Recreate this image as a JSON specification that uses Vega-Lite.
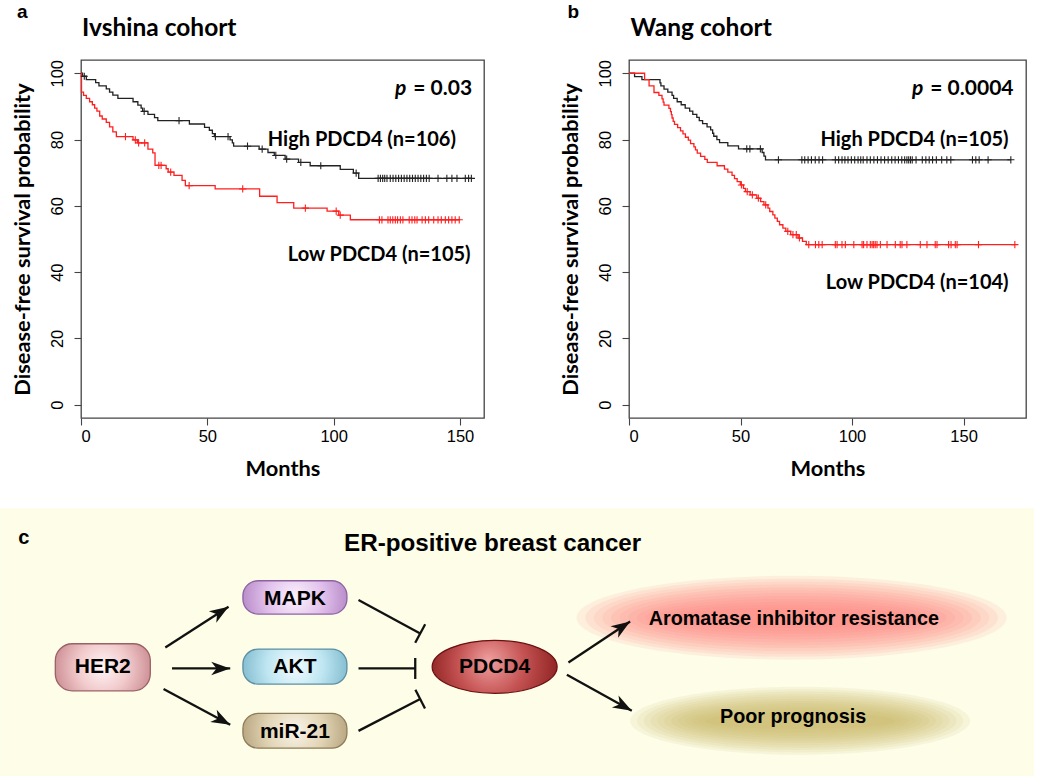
{
  "$schema": "https://vega.github.io/schema/vega-lite/v6.json",
  "background": "white",
  "padding": {"left": 0, "top": 2, "right": 0, "bottom": 0},
  "config": {
    "font": "Liberation Sans",
    "axis": {
      "grid": false, "domain": false, "tickColor": "#444", "tickSize": 7, "tickWidth": 1.1,
      "labelFont": "Liberation Sans", "labelFontSize": 16.5, "labelColor": "black",
      "titleFont": "Lato", "titleFontWeight": "bold", "titleFontSize": 21.8, "titleColor": "black"
    }
  },
  "datasets": {
    "km": [
      {"panel":"a","grp":"High","month":0,"surv":100},{"panel":"a","grp":"High","month":0.6,"surv":99.1},{"panel":"a","grp":"High","month":2.1,"surv":98.1},{"panel":"a","grp":"High","month":5.8,"surv":97.2},{"panel":"a","grp":"High","month":7.1,"surv":96.2},{"panel":"a","grp":"High","month":10.0,"surv":95.3},{"panel":"a","grp":"High","month":11.3,"surv":94.3},{"panel":"a","grp":"High","month":12.6,"surv":93.4},{"panel":"a","grp":"High","month":14.6,"surv":92.4},{"panel":"a","grp":"High","month":20.6,"surv":91.4},{"panel":"a","grp":"High","month":22.5,"surv":90.4},{"panel":"a","grp":"High","month":23.8,"surv":89.5},{"panel":"a","grp":"High","month":24.4,"surv":88.5},{"panel":"a","grp":"High","month":26.5,"surv":87.6},{"panel":"a","grp":"High","month":29.1,"surv":86.6},{"panel":"a","grp":"High","month":30.4,"surv":85.7},{"panel":"a","grp":"High","month":42.9,"surv":84.7},{"panel":"a","grp":"High","month":48.9,"surv":83.7},{"panel":"a","grp":"High","month":50.8,"surv":82.8},{"panel":"a","grp":"High","month":52.0,"surv":81.8},{"panel":"a","grp":"High","month":52.8,"surv":80.9},{"panel":"a","grp":"High","month":59.0,"surv":79.9},{"panel":"a","grp":"High","month":59.9,"surv":79.0},{"panel":"a","grp":"High","month":60.4,"surv":78.0},{"panel":"a","grp":"High","month":70.5,"surv":77.1},{"panel":"a","grp":"High","month":74.0,"surv":76.1},{"panel":"a","grp":"High","month":76.5,"surv":75.2},{"panel":"a","grp":"High","month":80.8,"surv":74.1},{"panel":"a","grp":"High","month":86.1,"surv":73.1},{"panel":"a","grp":"High","month":90.7,"surv":72.1},{"panel":"a","grp":"High","month":102.6,"surv":71.0},{"panel":"a","grp":"High","month":107.8,"surv":69.9},{"panel":"a","grp":"High","month":109.9,"surv":68.3},{"panel":"a","grp":"High","month":154.5,"surv":68.3},
      {"panel":"a","grp":"Low","month":0,"surv":100},{"panel":"a","grp":"Low","month":0.2,"surv":94.3},{"panel":"a","grp":"Low","month":1.0,"surv":93.3},{"panel":"a","grp":"Low","month":2.1,"surv":92.4},{"panel":"a","grp":"Low","month":3.4,"surv":91.4},{"panel":"a","grp":"Low","month":4.5,"surv":90.5},{"panel":"a","grp":"Low","month":5.4,"surv":89.5},{"panel":"a","grp":"Low","month":6.3,"surv":88.6},{"panel":"a","grp":"Low","month":7.4,"surv":87.1},{"panel":"a","grp":"Low","month":8.4,"surv":86.2},{"panel":"a","grp":"Low","month":10.0,"surv":85.2},{"panel":"a","grp":"Low","month":11.3,"surv":83.8},{"panel":"a","grp":"Low","month":12.6,"surv":82.3},{"panel":"a","grp":"Low","month":14.0,"surv":80.9},{"panel":"a","grp":"Low","month":20.6,"surv":79.9},{"panel":"a","grp":"Low","month":22.3,"surv":79.0},{"panel":"a","grp":"Low","month":26.5,"surv":77.1},{"panel":"a","grp":"Low","month":28.4,"surv":76.0},{"panel":"a","grp":"Low","month":29.3,"surv":72.2},{"panel":"a","grp":"Low","month":33.7,"surv":71.2},{"panel":"a","grp":"Low","month":34.5,"surv":70.2},{"panel":"a","grp":"Low","month":36.8,"surv":69.2},{"panel":"a","grp":"Low","month":40.0,"surv":67.7},{"panel":"a","grp":"Low","month":41.3,"surv":66.1},{"panel":"a","grp":"Low","month":53.1,"surv":65.1},{"panel":"a","grp":"Low","month":70.7,"surv":62.9},{"panel":"a","grp":"Low","month":77.6,"surv":61.0},{"panel":"a","grp":"Low","month":84.2,"surv":59.3},{"panel":"a","grp":"Low","month":97.4,"surv":58.4},{"panel":"a","grp":"Low","month":102.0,"surv":57.2},{"panel":"a","grp":"Low","month":106.6,"surv":55.8},{"panel":"a","grp":"Low","month":150.1,"surv":55.8},
      {"panel":"b","grp":"High","month":0,"surv":100},{"panel":"b","grp":"High","month":2.5,"surv":99.0},{"panel":"b","grp":"High","month":5.8,"surv":98.1},{"panel":"b","grp":"High","month":13.9,"surv":97.1},{"panel":"b","grp":"High","month":14.3,"surv":96.2},{"panel":"b","grp":"High","month":15.7,"surv":95.2},{"panel":"b","grp":"High","month":17.4,"surv":94.3},{"panel":"b","grp":"High","month":19.3,"surv":93.3},{"panel":"b","grp":"High","month":20.0,"surv":92.4},{"panel":"b","grp":"High","month":21.6,"surv":91.4},{"panel":"b","grp":"High","month":23.4,"surv":90.5},{"panel":"b","grp":"High","month":25.2,"surv":89.5},{"panel":"b","grp":"High","month":27.2,"surv":88.6},{"panel":"b","grp":"High","month":28.6,"surv":87.6},{"panel":"b","grp":"High","month":30.4,"surv":86.7},{"panel":"b","grp":"High","month":31.5,"surv":85.7},{"panel":"b","grp":"High","month":33.0,"surv":84.8},{"panel":"b","grp":"High","month":35.0,"surv":83.8},{"panel":"b","grp":"High","month":36.6,"surv":82.9},{"panel":"b","grp":"High","month":37.5,"surv":81.9},{"panel":"b","grp":"High","month":38.0,"surv":81.0},{"panel":"b","grp":"High","month":39.4,"surv":80.0},{"panel":"b","grp":"High","month":40.6,"surv":79.1},{"panel":"b","grp":"High","month":44.3,"surv":78.1},{"panel":"b","grp":"High","month":49.1,"surv":77.2},{"panel":"b","grp":"High","month":59.7,"surv":76.1},{"panel":"b","grp":"High","month":60.5,"surv":75.0},{"panel":"b","grp":"High","month":61.2,"surv":73.9},{"panel":"b","grp":"High","month":171.2,"surv":73.9},
      {"panel":"b","grp":"Low","month":0,"surv":100},{"panel":"b","grp":"Low","month":7.0,"surv":98.1},{"panel":"b","grp":"Low","month":9.0,"surv":96.2},{"panel":"b","grp":"Low","month":11.2,"surv":94.2},{"panel":"b","grp":"Low","month":13.4,"surv":93.3},{"panel":"b","grp":"Low","month":14.8,"surv":92.3},{"panel":"b","grp":"Low","month":15.3,"surv":91.3},{"panel":"b","grp":"Low","month":15.7,"surv":90.4},{"panel":"b","grp":"Low","month":17.9,"surv":89.4},{"panel":"b","grp":"Low","month":18.6,"surv":88.4},{"panel":"b","grp":"Low","month":19.0,"surv":87.5},{"panel":"b","grp":"Low","month":19.3,"surv":86.5},{"panel":"b","grp":"Low","month":19.8,"surv":85.5},{"panel":"b","grp":"Low","month":20.4,"surv":84.6},{"panel":"b","grp":"Low","month":21.8,"surv":83.6},{"panel":"b","grp":"Low","month":23.1,"surv":82.6},{"panel":"b","grp":"Low","month":24.2,"surv":81.7},{"panel":"b","grp":"Low","month":25.3,"surv":80.7},{"panel":"b","grp":"Low","month":26.6,"surv":79.8},{"panel":"b","grp":"Low","month":27.6,"surv":78.8},{"panel":"b","grp":"Low","month":29.1,"surv":77.8},{"panel":"b","grp":"Low","month":29.8,"surv":76.9},{"panel":"b","grp":"Low","month":30.6,"surv":75.9},{"panel":"b","grp":"Low","month":32.1,"surv":74.9},{"panel":"b","grp":"Low","month":34.0,"surv":74.0},{"panel":"b","grp":"Low","month":35.1,"surv":73.1},{"panel":"b","grp":"Low","month":39.5,"surv":72.1},{"panel":"b","grp":"Low","month":42.8,"surv":71.1},{"panel":"b","grp":"Low","month":44.3,"surv":70.2},{"panel":"b","grp":"Low","month":46.2,"surv":69.2},{"panel":"b","grp":"Low","month":47.3,"surv":68.2},{"panel":"b","grp":"Low","month":48.5,"surv":67.3},{"panel":"b","grp":"Low","month":49.9,"surv":66.3},{"panel":"b","grp":"Low","month":51.3,"surv":65.3},{"panel":"b","grp":"Low","month":52.2,"surv":64.3},{"panel":"b","grp":"Low","month":54.3,"surv":63.3},{"panel":"b","grp":"Low","month":57.3,"surv":62.3},{"panel":"b","grp":"Low","month":59.0,"surv":61.3},{"panel":"b","grp":"Low","month":60.5,"surv":60.3},{"panel":"b","grp":"Low","month":62.3,"surv":59.3},{"panel":"b","grp":"Low","month":63.1,"surv":58.3},{"panel":"b","grp":"Low","month":64.5,"surv":57.3},{"panel":"b","grp":"Low","month":65.4,"surv":56.3},{"panel":"b","grp":"Low","month":66.5,"surv":55.3},{"panel":"b","grp":"Low","month":67.5,"surv":54.3},{"panel":"b","grp":"Low","month":69.0,"surv":53.3},{"panel":"b","grp":"Low","month":70.3,"surv":52.3},{"panel":"b","grp":"Low","month":72.5,"surv":51.3},{"panel":"b","grp":"Low","month":75.8,"surv":50.3},{"panel":"b","grp":"Low","month":77.8,"surv":49.3},{"panel":"b","grp":"Low","month":79.5,"surv":48.3},{"panel":"b","grp":"Low","month":173.0,"surv":48.3}
    ],
    "cens": [
      {"panel":"a","grp":"High","month":1.3,"surv":99.1},{"panel":"a","grp":"High","month":25.0,"surv":88.5},{"panel":"a","grp":"High","month":38.8,"surv":85.7},{"panel":"a","grp":"High","month":53.2,"surv":80.9},{"panel":"a","grp":"High","month":58.2,"surv":80.9},{"panel":"a","grp":"High","month":65.9,"surv":78.0},{"panel":"a","grp":"High","month":71.7,"surv":77.1},{"panel":"a","grp":"High","month":77.1,"surv":75.2},{"panel":"a","grp":"High","month":81.4,"surv":74.1},{"panel":"a","grp":"High","month":87.0,"surv":73.1},{"panel":"a","grp":"High","month":94.9,"surv":72.1},{"panel":"a","grp":"High","month":108.9,"surv":69.9},
      {"panel":"a","grp":"High","month":117.6,"surv":68.3},{"panel":"a","grp":"High","month":118.5,"surv":68.3},{"panel":"a","grp":"High","month":119.4,"surv":68.3},{"panel":"a","grp":"High","month":120.2,"surv":68.3},{"panel":"a","grp":"High","month":121.1,"surv":68.3},{"panel":"a","grp":"High","month":122.4,"surv":68.3},{"panel":"a","grp":"High","month":123.5,"surv":68.3},{"panel":"a","grp":"High","month":124.6,"surv":68.3},{"panel":"a","grp":"High","month":125.7,"surv":68.3},{"panel":"a","grp":"High","month":126.8,"surv":68.3},{"panel":"a","grp":"High","month":127.9,"surv":68.3},{"panel":"a","grp":"High","month":129.0,"surv":68.3},{"panel":"a","grp":"High","month":130.1,"surv":68.3},{"panel":"a","grp":"High","month":131.2,"surv":68.3},{"panel":"a","grp":"High","month":132.3,"surv":68.3},{"panel":"a","grp":"High","month":133.4,"surv":68.3},{"panel":"a","grp":"High","month":134.5,"surv":68.3},{"panel":"a","grp":"High","month":135.6,"surv":68.3},{"panel":"a","grp":"High","month":136.7,"surv":68.3},{"panel":"a","grp":"High","month":137.8,"surv":68.3},{"panel":"a","grp":"High","month":141.3,"surv":68.3},{"panel":"a","grp":"High","month":144.8,"surv":68.3},{"panel":"a","grp":"High","month":146.8,"surv":68.3},{"panel":"a","grp":"High","month":148.8,"surv":68.3},{"panel":"a","grp":"High","month":152.1,"surv":68.3},{"panel":"a","grp":"High","month":153.4,"surv":68.3},{"panel":"a","grp":"High","month":154.5,"surv":68.3},
      {"panel":"a","grp":"Low","month":17.6,"surv":80.9},{"panel":"a","grp":"Low","month":21.5,"surv":79.9},{"panel":"a","grp":"Low","month":22.8,"surv":79.0},{"panel":"a","grp":"Low","month":25.2,"surv":79.0},{"panel":"a","grp":"Low","month":30.8,"surv":72.2},{"panel":"a","grp":"Low","month":31.7,"surv":72.2},{"panel":"a","grp":"Low","month":35.5,"surv":70.2},{"panel":"a","grp":"Low","month":42.8,"surv":66.1},{"panel":"a","grp":"Low","month":64.0,"surv":65.1},{"panel":"a","grp":"Low","month":88.8,"surv":59.3},{"panel":"a","grp":"Low","month":101.0,"surv":58.4},{"panel":"a","grp":"Low","month":102.6,"surv":57.2},
      {"panel":"a","grp":"Low","month":118.1,"surv":55.8},{"panel":"a","grp":"Low","month":119.1,"surv":55.8},{"panel":"a","grp":"Low","month":121.5,"surv":55.8},{"panel":"a","grp":"Low","month":122.4,"surv":55.8},{"panel":"a","grp":"Low","month":123.4,"surv":55.8},{"panel":"a","grp":"Low","month":124.4,"surv":55.8},{"panel":"a","grp":"Low","month":125.3,"surv":55.8},{"panel":"a","grp":"Low","month":126.4,"surv":55.8},{"panel":"a","grp":"Low","month":127.4,"surv":55.8},{"panel":"a","grp":"Low","month":129.9,"surv":55.8},{"panel":"a","grp":"Low","month":131.0,"surv":55.8},{"panel":"a","grp":"Low","month":132.1,"surv":55.8},{"panel":"a","grp":"Low","month":133.0,"surv":55.8},{"panel":"a","grp":"Low","month":135.0,"surv":55.8},{"panel":"a","grp":"Low","month":136.3,"surv":55.8},{"panel":"a","grp":"Low","month":137.6,"surv":55.8},{"panel":"a","grp":"Low","month":139.6,"surv":55.8},{"panel":"a","grp":"Low","month":141.3,"surv":55.8},{"panel":"a","grp":"Low","month":142.6,"surv":55.8},{"panel":"a","grp":"Low","month":144.2,"surv":55.8},{"panel":"a","grp":"Low","month":145.5,"surv":55.8},{"panel":"a","grp":"Low","month":146.8,"surv":55.8},{"panel":"a","grp":"Low","month":148.1,"surv":55.8},{"panel":"a","grp":"Low","month":149.7,"surv":55.8},
      {"panel":"b","grp":"High","month":52.8,"surv":77.2},{"panel":"b","grp":"High","month":54.2,"surv":77.2},{"panel":"b","grp":"High","month":58.9,"surv":77.2},
      {"panel":"b","grp":"High","month":67.0,"surv":73.9},{"panel":"b","grp":"High","month":77.5,"surv":73.9},{"panel":"b","grp":"High","month":78.8,"surv":73.9},{"panel":"b","grp":"High","month":80.3,"surv":73.9},{"panel":"b","grp":"High","month":81.8,"surv":73.9},{"panel":"b","grp":"High","month":83.5,"surv":73.9},{"panel":"b","grp":"High","month":85.2,"surv":73.9},{"panel":"b","grp":"High","month":86.8,"surv":73.9},{"panel":"b","grp":"High","month":92.5,"surv":73.9},{"panel":"b","grp":"High","month":94.0,"surv":73.9},{"panel":"b","grp":"High","month":95.5,"surv":73.9},{"panel":"b","grp":"High","month":96.8,"surv":73.9},{"panel":"b","grp":"High","month":98.2,"surv":73.9},{"panel":"b","grp":"High","month":99.7,"surv":73.9},{"panel":"b","grp":"High","month":101.2,"surv":73.9},{"panel":"b","grp":"High","month":102.7,"surv":73.9},{"panel":"b","grp":"High","month":103.9,"surv":73.9},{"panel":"b","grp":"High","month":105.0,"surv":73.9},{"panel":"b","grp":"High","month":106.7,"surv":73.9},{"panel":"b","grp":"High","month":108.2,"surv":73.9},{"panel":"b","grp":"High","month":109.8,"surv":73.9},{"panel":"b","grp":"High","month":111.4,"surv":73.9},{"panel":"b","grp":"High","month":113.0,"surv":73.9},{"panel":"b","grp":"High","month":114.6,"surv":73.9},{"panel":"b","grp":"High","month":116.2,"surv":73.9},{"panel":"b","grp":"High","month":117.8,"surv":73.9},{"panel":"b","grp":"High","month":119.3,"surv":73.9},{"panel":"b","grp":"High","month":120.8,"surv":73.9},{"panel":"b","grp":"High","month":122.3,"surv":73.9},{"panel":"b","grp":"High","month":123.6,"surv":73.9},{"panel":"b","grp":"High","month":124.6,"surv":73.9},{"panel":"b","grp":"High","month":125.4,"surv":73.9},{"panel":"b","grp":"High","month":126.2,"surv":73.9},{"panel":"b","grp":"High","month":127.0,"surv":73.9},{"panel":"b","grp":"High","month":128.7,"surv":73.9},{"panel":"b","grp":"High","month":131.5,"surv":73.9},{"panel":"b","grp":"High","month":133.1,"surv":73.9},{"panel":"b","grp":"High","month":134.6,"surv":73.9},{"panel":"b","grp":"High","month":136.1,"surv":73.9},{"panel":"b","grp":"High","month":137.8,"surv":73.9},{"panel":"b","grp":"High","month":140.2,"surv":73.9},{"panel":"b","grp":"High","month":142.5,"surv":73.9},{"panel":"b","grp":"High","month":144.3,"surv":73.9},{"panel":"b","grp":"High","month":154.0,"surv":73.9},{"panel":"b","grp":"High","month":155.5,"surv":73.9},{"panel":"b","grp":"High","month":157.0,"surv":73.9},{"panel":"b","grp":"High","month":161.0,"surv":73.9},{"panel":"b","grp":"High","month":171.2,"surv":73.9},
      {"panel":"b","grp":"Low","month":50.4,"surv":66.3},{"panel":"b","grp":"Low","month":53.0,"surv":64.3},{"panel":"b","grp":"Low","month":55.3,"surv":63.3},{"panel":"b","grp":"Low","month":58.0,"surv":62.3},{"panel":"b","grp":"Low","month":61.3,"surv":60.3},{"panel":"b","grp":"Low","month":71.2,"surv":52.3},{"panel":"b","grp":"Low","month":73.5,"surv":51.3},{"panel":"b","grp":"Low","month":75.0,"surv":51.3},{"panel":"b","grp":"Low","month":76.4,"surv":50.3},
      {"panel":"b","grp":"Low","month":80.6,"surv":48.3},{"panel":"b","grp":"Low","month":83.6,"surv":48.3},{"panel":"b","grp":"Low","month":85.1,"surv":48.3},{"panel":"b","grp":"Low","month":86.6,"surv":48.3},{"panel":"b","grp":"Low","month":92.5,"surv":48.3},{"panel":"b","grp":"Low","month":93.3,"surv":48.3},{"panel":"b","grp":"Low","month":95.5,"surv":48.3},{"panel":"b","grp":"Low","month":97.0,"surv":48.3},{"panel":"b","grp":"Low","month":100.8,"surv":48.3},{"panel":"b","grp":"Low","month":104.5,"surv":48.3},{"panel":"b","grp":"Low","month":105.2,"surv":48.3},{"panel":"b","grp":"Low","month":106.7,"surv":48.3},{"panel":"b","grp":"Low","month":108.2,"surv":48.3},{"panel":"b","grp":"Low","month":109.0,"surv":48.3},{"panel":"b","grp":"Low","month":109.7,"surv":48.3},{"panel":"b","grp":"Low","month":110.4,"surv":48.3},{"panel":"b","grp":"Low","month":111.2,"surv":48.3},{"panel":"b","grp":"Low","month":112.7,"surv":48.3},{"panel":"b","grp":"Low","month":115.7,"surv":48.3},{"panel":"b","grp":"Low","month":119.4,"surv":48.3},{"panel":"b","grp":"Low","month":121.6,"surv":48.3},{"panel":"b","grp":"Low","month":122.4,"surv":48.3},{"panel":"b","grp":"Low","month":124.6,"surv":48.3},{"panel":"b","grp":"Low","month":130.6,"surv":48.3},{"panel":"b","grp":"Low","month":133.6,"surv":48.3},{"panel":"b","grp":"Low","month":137.3,"surv":48.3},{"panel":"b","grp":"Low","month":138.1,"surv":48.3},{"panel":"b","grp":"Low","month":143.3,"surv":48.3},{"panel":"b","grp":"Low","month":144.4,"surv":48.3},{"panel":"b","grp":"Low","month":146.3,"surv":48.3},{"panel":"b","grp":"Low","month":147.1,"surv":48.3},{"panel":"b","grp":"Low","month":156.7,"surv":48.3},{"panel":"b","grp":"Low","month":173.0,"surv":48.3}
    ],
    "ann": [
      {"panel":"a","role":"letter","label":"a","month":-25.3,"surv":116.75},
      {"panel":"a","role":"cohort","label":"Ivshina cohort","month":0.4,"surv":111.3},
      {"panel":"a","role":"pvar","label":"p","month":124.3,"surv":93.4},
      {"panel":"a","role":"pval","label":"= 0.03","month":131.5,"surv":93.4},
      {"panel":"a","role":"grp","label":"High PDCD4 (n=106)","month":148.4,"surv":78.1},
      {"panel":"a","role":"grp","label":"Low PDCD4 (n=105)","month":154.2,"surv":43.4},
      {"panel":"b","role":"letter","label":"b","month":-27.6,"surv":116.75},
      {"panel":"b","role":"cohort","label":"Wang cohort","month":0.7,"surv":111.2},
      {"panel":"b","role":"pvar","label":"p","month":126.9,"surv":93.4},
      {"panel":"b","role":"pval","label":"= 0.0004","month":135.1,"surv":93.4},
      {"panel":"b","role":"grp","label":"High PDCD4 (n=105)","month":170.2,"surv":78.1},
      {"panel":"b","role":"grp","label":"Low PDCD4 (n=104)","month":170.2,"surv":35.0}
    ],
    "panel": [
      {"name":"c","x":0,"x2":100,"y":0,"y2":26}
    ],
    "nodes": [
      {"name":"HER2","x":5.32,"x2":14.51,"y":13.12,"y2":17.67,"cx":9.91,"cy":15.41},
      {"name":"MAPK","x":23.47,"x2":33.53,"y":7.03,"y2":10.25,"cx":28.5,"cy":8.75},
      {"name":"AKT","x":23.47,"x2":33.53,"y":13.64,"y2":17.02,"cx":28.5,"cy":15.33},
      {"name":"miR-21","x":23.47,"x2":33.53,"y":19.86,"y2":23.21,"cx":28.5,"cy":21.62},
      {"name":"PDCD4","x":41.78,"x2":53.87,"y":12.84,"y2":17.96,"cx":47.82,"cy":15.35}
    ],
    "edges": [
      {"from":"HER2","to":"MAPK","kind":"act","x":15.96,"y":13.48,"x2":22.08,"y2":9.55},
      {"from":"HER2","to":"AKT","kind":"act","x":16.61,"y":15.51,"x2":22.24,"y2":15.51},
      {"from":"HER2","to":"miR-21","kind":"act","x":15.79,"y":17.50,"x2":22.24,"y2":20.96},
      {"from":"MAPK","to":"PDCD4","kind":"inh","x":34.65,"y":8.90,"x2":40.62,"y2":12.13},
      {"from":"AKT","to":"PDCD4","kind":"inh","x":34.65,"y":15.51,"x2":40.14,"y2":15.51},
      {"from":"miR-21","to":"PDCD4","kind":"inh","x":34.65,"y":21.54,"x2":40.62,"y2":18.47},
      {"from":"PDCD4","to":"Aromatase inhibitor resistance","kind":"act","x":54.96,"y":14.93,"x2":60.93,"y2":10.97},
      {"from":"PDCD4","to":"Poor prognosis","kind":"act","x":54.81,"y":16.12,"x2":61.09,"y2":19.60}
    ],
    "glows": [
      {"name":"resist","cx":76.55,"cy":10.61},
      {"name":"prog","cx":77.37,"cy":20.57}
    ],
    "dtext": [
      {"role":"letter","label":"c","x":1.74,"y":3.45},
      {"role":"title","label":"ER-positive breast cancer","x":47.63,"y":4.13},
      {"role":"outcome","label":"Aromatase inhibitor resistance","x":76.76,"y":10.71},
      {"role":"outcome","label":"Poor prognosis","x":76.69,"y":20.18}
    ]
  },
  "spacing": 27,
  "vconcat": [
    {
      "spacing": 74,
      "hconcat": [
        {
          "width": 403, "height": 358,
          "view": {"stroke": "#444", "strokeWidth": 1.3},
          "encoding": {
            "x": {"field": "month", "type": "quantitative", "scale": {"domain": [0, 159.5], "nice": false, "zero": false},
                  "axis": {"title": "Months", "values": [0, 50, 100, 150], "labelPadding": 3, "titlePadding": 14}},
            "y": {"field": "surv", "type": "quantitative", "scale": {"domain": [-4, 104], "nice": false, "zero": false},
                  "axis": {"title": "Disease-free survival probability", "values": [0, 20, 40, 60, 80, 100], "labelAngle": 270, "labelAlign": "center", "labelBaseline": "alphabetic", "labelPadding": 12, "titlePadding": 15}}
          },
          "layer": [
            {"data": {"name": "km"}, "transform": [{"filter": "datum.panel == 'a'"}],
             "mark": {"type": "line", "interpolate": "step-after", "strokeWidth": 1.3},
             "encoding": {"color": {"field": "grp", "type": "nominal", "scale": {"domain": ["High", "Low"], "range": ["#222222", "#ff1f1f"]}, "legend": null}}},
            {"data": {"name": "cens"}, "transform": [{"filter": "datum.panel == 'a'"}],
             "mark": {"type": "point", "shape": "M-1,0L1,0M0,-1L0,1", "filled": false, "size": 52, "strokeWidth": 1.1, "opacity": 1},
             "encoding": {"color": {"field": "grp", "type": "nominal", "scale": {"domain": ["High", "Low"], "range": ["#222222", "#ff1f1f"]}, "legend": null}}},
            {"data": {"name": "ann"}, "transform": [{"filter": "datum.panel == 'a' && datum.role == 'letter'"}],
             "mark": {"type": "text", "font": "Liberation Sans", "fontWeight": "bold", "fontSize": 19, "align": "left", "baseline": "alphabetic", "color": "black"},
             "encoding": {"text": {"field": "label"}}},
            {"data": {"name": "ann"}, "transform": [{"filter": "datum.panel == 'a' && datum.role == 'cohort'"}],
             "mark": {"type": "text", "font": "Lato", "fontWeight": "bold", "fontSize": 24.5, "align": "left", "baseline": "alphabetic", "color": "black"},
             "encoding": {"text": {"field": "label"}}},
            {"data": {"name": "ann"}, "transform": [{"filter": "datum.panel == 'a' && datum.role == 'pvar'"}],
             "mark": {"type": "text", "font": "Lato", "fontWeight": "bold", "fontStyle": "italic", "fontSize": 21, "align": "left", "baseline": "alphabetic", "color": "black"},
             "encoding": {"text": {"field": "label"}}},
            {"data": {"name": "ann"}, "transform": [{"filter": "datum.panel == 'a' && datum.role == 'pval'"}],
             "mark": {"type": "text", "font": "Lato", "fontWeight": "bold", "fontSize": 21, "align": "left", "baseline": "alphabetic", "color": "black"},
             "encoding": {"text": {"field": "label"}}},
            {"data": {"name": "ann"}, "transform": [{"filter": "datum.panel == 'a' && datum.role == 'grp'"}],
             "mark": {"type": "text", "font": "Lato", "fontWeight": "bold", "fontSize": 20, "align": "right", "baseline": "alphabetic", "color": "black"},
             "encoding": {"text": {"field": "label"}}}
          ]
        },
        {
          "width": 397, "height": 358,
          "view": {"stroke": "#444", "strokeWidth": 1.3},
          "encoding": {
            "x": {"field": "month", "type": "quantitative", "scale": {"domain": [0, 178], "nice": false, "zero": false},
                  "axis": {"title": "Months", "values": [0, 50, 100, 150], "labelPadding": 3, "titlePadding": 14}},
            "y": {"field": "surv", "type": "quantitative", "scale": {"domain": [-4, 104], "nice": false, "zero": false},
                  "axis": {"title": "Disease-free survival probability", "values": [0, 20, 40, 60, 80, 100], "labelAngle": 270, "labelAlign": "center", "labelBaseline": "alphabetic", "labelPadding": 12, "titlePadding": 15}}
          },
          "layer": [
            {"data": {"name": "km"}, "transform": [{"filter": "datum.panel == 'b'"}],
             "mark": {"type": "line", "interpolate": "step-after", "strokeWidth": 1.3},
             "encoding": {"color": {"field": "grp", "type": "nominal", "scale": {"domain": ["High", "Low"], "range": ["#222222", "#ff1f1f"]}, "legend": null}}},
            {"data": {"name": "cens"}, "transform": [{"filter": "datum.panel == 'b'"}],
             "mark": {"type": "point", "shape": "M-1,0L1,0M0,-1L0,1", "filled": false, "size": 52, "strokeWidth": 1.1, "opacity": 1},
             "encoding": {"color": {"field": "grp", "type": "nominal", "scale": {"domain": ["High", "Low"], "range": ["#222222", "#ff1f1f"]}, "legend": null}}},
            {"data": {"name": "ann"}, "transform": [{"filter": "datum.panel == 'b' && datum.role == 'letter'"}],
             "mark": {"type": "text", "font": "Liberation Sans", "fontWeight": "bold", "fontSize": 19, "align": "left", "baseline": "alphabetic", "color": "black"},
             "encoding": {"text": {"field": "label"}}},
            {"data": {"name": "ann"}, "transform": [{"filter": "datum.panel == 'b' && datum.role == 'cohort'"}],
             "mark": {"type": "text", "font": "Lato", "fontWeight": "bold", "fontSize": 24.5, "align": "left", "baseline": "alphabetic", "color": "black"},
             "encoding": {"text": {"field": "label"}}},
            {"data": {"name": "ann"}, "transform": [{"filter": "datum.panel == 'b' && datum.role == 'pvar'"}],
             "mark": {"type": "text", "font": "Lato", "fontWeight": "bold", "fontStyle": "italic", "fontSize": 21, "align": "left", "baseline": "alphabetic", "color": "black"},
             "encoding": {"text": {"field": "label"}}},
            {"data": {"name": "ann"}, "transform": [{"filter": "datum.panel == 'b' && datum.role == 'pval'"}],
             "mark": {"type": "text", "font": "Lato", "fontWeight": "bold", "fontSize": 21, "align": "left", "baseline": "alphabetic", "color": "black"},
             "encoding": {"text": {"field": "label"}}},
            {"data": {"name": "ann"}, "transform": [{"filter": "datum.panel == 'b' && datum.role == 'grp'"}],
             "mark": {"type": "text", "font": "Lato", "fontWeight": "bold", "fontSize": 20, "align": "right", "baseline": "alphabetic", "color": "black"},
             "encoding": {"text": {"field": "label"}}}
          ]
        }
      ]
    },
    {
      "width": 953, "height": 269,
      "view": {"stroke": null},
      "encoding": {
        "x": {"field": "x", "type": "quantitative", "scale": {"domain": [7.805, 100], "nice": false, "zero": false}, "axis": null},
        "y": {"field": "y", "type": "quantitative", "scale": {"domain": [0, 26], "nice": false, "zero": false, "reverse": true}, "axis": null}
      },
      "layer": [
        {"data": {"name": "panel"},
         "mark": {"type": "rect", "fill": "#fdfde8", "strokeWidth": 0},
         "encoding": {"x2": {"field": "x2"}, "y2": {"field": "y2"}}},
        {"data": {"name": "glows"}, "transform": [{"filter": "datum.name == 'resist'"}], "mark": {"type": "point", "shape": "M-1,0A1,0.195,0,1,0,1,0A1,0.195,0,1,0,-1,0Z", "filled": true, "color": "#ff7878", "opacity": 0.1, "size": 184900, "strokeWidth": 0}, "encoding": {"x": {"field": "cx", "type": "quantitative"}, "y": {"field": "cy", "type": "quantitative"}}},
        {"data": {"name": "glows"}, "transform": [{"filter": "datum.name == 'resist'"}], "mark": {"type": "point", "shape": "M-1,0A1,0.189,0,1,0,1,0A1,0.189,0,1,0,-1,0Z", "filled": true, "color": "#ff7878", "opacity": 0.1, "size": 170399, "strokeWidth": 0}, "encoding": {"x": {"field": "cx", "type": "quantitative"}, "y": {"field": "cy", "type": "quantitative"}}},
        {"data": {"name": "glows"}, "transform": [{"filter": "datum.name == 'resist'"}], "mark": {"type": "point", "shape": "M-1,0A1,0.183,0,1,0,1,0A1,0.183,0,1,0,-1,0Z", "filled": true, "color": "#ff7878", "opacity": 0.1, "size": 156494, "strokeWidth": 0}, "encoding": {"x": {"field": "cx", "type": "quantitative"}, "y": {"field": "cy", "type": "quantitative"}}},
        {"data": {"name": "glows"}, "transform": [{"filter": "datum.name == 'resist'"}], "mark": {"type": "point", "shape": "M-1,0A1,0.176,0,1,0,1,0A1,0.176,0,1,0,-1,0Z", "filled": true, "color": "#ff7878", "opacity": 0.1, "size": 143186, "strokeWidth": 0}, "encoding": {"x": {"field": "cx", "type": "quantitative"}, "y": {"field": "cy", "type": "quantitative"}}},
        {"data": {"name": "glows"}, "transform": [{"filter": "datum.name == 'resist'"}], "mark": {"type": "point", "shape": "M-1,0A1,0.168,0,1,0,1,0A1,0.168,0,1,0,-1,0Z", "filled": true, "color": "#ff7878", "opacity": 0.1, "size": 130466, "strokeWidth": 0}, "encoding": {"x": {"field": "cx", "type": "quantitative"}, "y": {"field": "cy", "type": "quantitative"}}},
        {"data": {"name": "glows"}, "transform": [{"filter": "datum.name == 'resist'"}], "mark": {"type": "point", "shape": "M-1,0A1,0.16,0,1,0,1,0A1,0.16,0,1,0,-1,0Z", "filled": true, "color": "#ff7878", "opacity": 0.1, "size": 118336, "strokeWidth": 0}, "encoding": {"x": {"field": "cx", "type": "quantitative"}, "y": {"field": "cy", "type": "quantitative"}}},
        {"data": {"name": "glows"}, "transform": [{"filter": "datum.name == 'resist'"}], "mark": {"type": "point", "shape": "M-1,0A1,0.151,0,1,0,1,0A1,0.151,0,1,0,-1,0Z", "filled": true, "color": "#ff7878", "opacity": 0.1, "size": 106799, "strokeWidth": 0}, "encoding": {"x": {"field": "cx", "type": "quantitative"}, "y": {"field": "cy", "type": "quantitative"}}},
        {"data": {"name": "glows"}, "transform": [{"filter": "datum.name == 'resist'"}], "mark": {"type": "point", "shape": "M-1,0A1,0.14,0,1,0,1,0A1,0.14,0,1,0,-1,0Z", "filled": true, "color": "#ff7878", "opacity": 0.1, "size": 95852, "strokeWidth": 0}, "encoding": {"x": {"field": "cx", "type": "quantitative"}, "y": {"field": "cy", "type": "quantitative"}}},
        {"data": {"name": "glows"}, "transform": [{"filter": "datum.name == 'resist'"}], "mark": {"type": "point", "shape": "M-1,0A1,0.129,0,1,0,1,0A1,0.129,0,1,0,-1,0Z", "filled": true, "color": "#ff7878", "opacity": 0.1, "size": 85497, "strokeWidth": 0}, "encoding": {"x": {"field": "cx", "type": "quantitative"}, "y": {"field": "cy", "type": "quantitative"}}},
        {"data": {"name": "glows"}, "transform": [{"filter": "datum.name == 'resist'"}], "mark": {"type": "point", "shape": "M-1,0A1,0.116,0,1,0,1,0A1,0.116,0,1,0,-1,0Z", "filled": true, "color": "#ff7878", "opacity": 0.1, "size": 75735, "strokeWidth": 0}, "encoding": {"x": {"field": "cx", "type": "quantitative"}, "y": {"field": "cy", "type": "quantitative"}}},
        {"data": {"name": "glows"}, "transform": [{"filter": "datum.name == 'resist'"}], "mark": {"type": "point", "shape": "M-1,0A1,0.101,0,1,0,1,0A1,0.101,0,1,0,-1,0Z", "filled": true, "color": "#ff7878", "opacity": 0.1, "size": 66564, "strokeWidth": 0}, "encoding": {"x": {"field": "cx", "type": "quantitative"}, "y": {"field": "cy", "type": "quantitative"}}},
        {"data": {"name": "glows"}, "transform": [{"filter": "datum.name == 'resist'"}], "mark": {"type": "point", "shape": "M-1,0A1,0.084,0,1,0,1,0A1,0.084,0,1,0,-1,0Z", "filled": true, "color": "#ff7878", "opacity": 0.1, "size": 57984, "strokeWidth": 0}, "encoding": {"x": {"field": "cx", "type": "quantitative"}, "y": {"field": "cy", "type": "quantitative"}}},
        {"data": {"name": "glows"}, "transform": [{"filter": "datum.name == 'prog'"}], "mark": {"type": "point", "shape": "M-1,0A1,0.2,0,1,0,1,0A1,0.2,0,1,0,-1,0Z", "filled": true, "color": "#c8b05a", "opacity": 0.105, "size": 115600, "strokeWidth": 0}, "encoding": {"x": {"field": "cx", "type": "quantitative"}, "y": {"field": "cy", "type": "quantitative"}}},
        {"data": {"name": "glows"}, "transform": [{"filter": "datum.name == 'prog'"}], "mark": {"type": "point", "shape": "M-1,0A1,0.194,0,1,0,1,0A1,0.194,0,1,0,-1,0Z", "filled": true, "color": "#c8b05a", "opacity": 0.105, "size": 106537, "strokeWidth": 0}, "encoding": {"x": {"field": "cx", "type": "quantitative"}, "y": {"field": "cy", "type": "quantitative"}}},
        {"data": {"name": "glows"}, "transform": [{"filter": "datum.name == 'prog'"}], "mark": {"type": "point", "shape": "M-1,0A1,0.187,0,1,0,1,0A1,0.187,0,1,0,-1,0Z", "filled": true, "color": "#c8b05a", "opacity": 0.105, "size": 97844, "strokeWidth": 0}, "encoding": {"x": {"field": "cx", "type": "quantitative"}, "y": {"field": "cy", "type": "quantitative"}}},
        {"data": {"name": "glows"}, "transform": [{"filter": "datum.name == 'prog'"}], "mark": {"type": "point", "shape": "M-1,0A1,0.18,0,1,0,1,0A1,0.18,0,1,0,-1,0Z", "filled": true, "color": "#c8b05a", "opacity": 0.105, "size": 89519, "strokeWidth": 0}, "encoding": {"x": {"field": "cx", "type": "quantitative"}, "y": {"field": "cy", "type": "quantitative"}}},
        {"data": {"name": "glows"}, "transform": [{"filter": "datum.name == 'prog'"}], "mark": {"type": "point", "shape": "M-1,0A1,0.172,0,1,0,1,0A1,0.172,0,1,0,-1,0Z", "filled": true, "color": "#c8b05a", "opacity": 0.105, "size": 81567, "strokeWidth": 0}, "encoding": {"x": {"field": "cx", "type": "quantitative"}, "y": {"field": "cy", "type": "quantitative"}}},
        {"data": {"name": "glows"}, "transform": [{"filter": "datum.name == 'prog'"}], "mark": {"type": "point", "shape": "M-1,0A1,0.163,0,1,0,1,0A1,0.163,0,1,0,-1,0Z", "filled": true, "color": "#c8b05a", "opacity": 0.105, "size": 73984, "strokeWidth": 0}, "encoding": {"x": {"field": "cx", "type": "quantitative"}, "y": {"field": "cy", "type": "quantitative"}}},
        {"data": {"name": "glows"}, "transform": [{"filter": "datum.name == 'prog'"}], "mark": {"type": "point", "shape": "M-1,0A1,0.154,0,1,0,1,0A1,0.154,0,1,0,-1,0Z", "filled": true, "color": "#c8b05a", "opacity": 0.105, "size": 66770, "strokeWidth": 0}, "encoding": {"x": {"field": "cx", "type": "quantitative"}, "y": {"field": "cy", "type": "quantitative"}}},
        {"data": {"name": "glows"}, "transform": [{"filter": "datum.name == 'prog'"}], "mark": {"type": "point", "shape": "M-1,0A1,0.143,0,1,0,1,0A1,0.143,0,1,0,-1,0Z", "filled": true, "color": "#c8b05a", "opacity": 0.105, "size": 59926, "strokeWidth": 0}, "encoding": {"x": {"field": "cx", "type": "quantitative"}, "y": {"field": "cy", "type": "quantitative"}}},
        {"data": {"name": "glows"}, "transform": [{"filter": "datum.name == 'prog'"}], "mark": {"type": "point", "shape": "M-1,0A1,0.131,0,1,0,1,0A1,0.131,0,1,0,-1,0Z", "filled": true, "color": "#c8b05a", "opacity": 0.105, "size": 53453, "strokeWidth": 0}, "encoding": {"x": {"field": "cx", "type": "quantitative"}, "y": {"field": "cy", "type": "quantitative"}}},
        {"data": {"name": "glows"}, "transform": [{"filter": "datum.name == 'prog'"}], "mark": {"type": "point", "shape": "M-1,0A1,0.117,0,1,0,1,0A1,0.117,0,1,0,-1,0Z", "filled": true, "color": "#c8b05a", "opacity": 0.105, "size": 47350, "strokeWidth": 0}, "encoding": {"x": {"field": "cx", "type": "quantitative"}, "y": {"field": "cy", "type": "quantitative"}}},
        {"data": {"name": "glows"}, "transform": [{"filter": "datum.name == 'prog'"}], "mark": {"type": "point", "shape": "M-1,0A1,0.102,0,1,0,1,0A1,0.102,0,1,0,-1,0Z", "filled": true, "color": "#c8b05a", "opacity": 0.105, "size": 41616, "strokeWidth": 0}, "encoding": {"x": {"field": "cx", "type": "quantitative"}, "y": {"field": "cy", "type": "quantitative"}}},
        {"data": {"name": "glows"}, "transform": [{"filter": "datum.name == 'prog'"}], "mark": {"type": "point", "shape": "M-1,0A1,0.084,0,1,0,1,0A1,0.084,0,1,0,-1,0Z", "filled": true, "color": "#c8b05a", "opacity": 0.105, "size": 36252, "strokeWidth": 0}, "encoding": {"x": {"field": "cx", "type": "quantitative"}, "y": {"field": "cy", "type": "quantitative"}}},
        {"data": {"name": "edges"},
         "mark": {"type": "rule", "color": "#111111", "strokeWidth": 2.3},
         "encoding": {"x2": {"field": "x2"}, "y2": {"field": "y2"}}},
        {"data": {"name": "edges"},
         "transform": [{"filter": "datum.kind == 'act'"}, {"calculate": "atan2(datum.y2 - datum.y, datum.x2 - datum.x) * 180 / PI", "as": "heading"}],
         "mark": {"type": "point", "shape": "M0,0L-1,-0.36L-0.72,0L-1,0.36Z", "filled": true, "size": 1444, "color": "#111111", "opacity": 1},
         "encoding": {"x": {"field": "x2", "type": "quantitative"}, "y": {"field": "y2", "type": "quantitative"}, "angle": {"field": "heading", "type": "quantitative", "scale": null}}},
        {"data": {"name": "edges"},
         "transform": [{"filter": "datum.kind == 'inh'"}, {"calculate": "atan2(datum.y2 - datum.y, datum.x2 - datum.x) * 180 / PI", "as": "heading"}],
         "mark": {"type": "point", "shape": "M0,-1L0,1", "filled": false, "size": 440, "stroke": "#111111", "strokeWidth": 2.3, "opacity": 1},
         "encoding": {"x": {"field": "x2", "type": "quantitative"}, "y": {"field": "y2", "type": "quantitative"}, "angle": {"field": "heading", "type": "quantitative", "scale": null}}},
        {"data": {"name": "nodes"}, "transform": [{"filter": "datum.name == 'HER2'"}],
         "mark": {"type": "rect", "cornerRadius": 17, "stroke": "#9a6266", "strokeWidth": 1.3,
                  "fill": {"gradient": "radial", "x1": 0.5, "y1": 0.5, "r1": 0, "x2": 0.5, "y2": 0.5, "r2": 0.6,
                           "stops": [{"offset": 0, "color": "#fff6f6"}, {"offset": 0.45, "color": "#f1c9cb"}, {"offset": 1, "color": "#c07c82"}]}},
         "encoding": {"x2": {"field": "x2"}, "y2": {"field": "y2"}}},
        {"data": {"name": "nodes"}, "transform": [{"filter": "datum.name == 'MAPK'"}],
         "mark": {"type": "rect", "cornerRadius": 15, "stroke": "#8d62a2", "strokeWidth": 1.3,
                  "fill": {"gradient": "radial", "x1": 0.5, "y1": 0.5, "r1": 0, "x2": 0.5, "y2": 0.5, "r2": 0.6,
                           "stops": [{"offset": 0, "color": "#fbf2fd"}, {"offset": 0.45, "color": "#e2c2ec"}, {"offset": 1, "color": "#a878bc"}]}},
         "encoding": {"x2": {"field": "x2"}, "y2": {"field": "y2"}}},
        {"data": {"name": "nodes"}, "transform": [{"filter": "datum.name == 'AKT'"}],
         "mark": {"type": "rect", "cornerRadius": 15, "stroke": "#5d8fa2", "strokeWidth": 1.3,
                  "fill": {"gradient": "radial", "x1": 0.5, "y1": 0.5, "r1": 0, "x2": 0.5, "y2": 0.5, "r2": 0.6,
                           "stops": [{"offset": 0, "color": "#f3fcfe"}, {"offset": 0.45, "color": "#bfe6f2"}, {"offset": 1, "color": "#6eaec4"}]}},
         "encoding": {"x2": {"field": "x2"}, "y2": {"field": "y2"}}},
        {"data": {"name": "nodes"}, "transform": [{"filter": "datum.name == 'miR-21'"}],
         "mark": {"type": "rect", "cornerRadius": 15, "stroke": "#8e7c58", "strokeWidth": 1.3,
                  "fill": {"gradient": "radial", "x1": 0.5, "y1": 0.5, "r1": 0, "x2": 0.5, "y2": 0.5, "r2": 0.6,
                           "stops": [{"offset": 0, "color": "#faf5ea"}, {"offset": 0.45, "color": "#e2d5b6"}, {"offset": 1, "color": "#a9956d"}]}},
         "encoding": {"x2": {"field": "x2"}, "y2": {"field": "y2"}}},
        {"data": {"name": "nodes"}, "transform": [{"filter": "datum.name == 'PDCD4'"}],
         "mark": {"type": "point", "shape": "M-1,0A1,0.424,0,1,0,1,0A1,0.424,0,1,0,-1,0Z", "filled": true, "size": 15625, "opacity": 1,
                  "stroke": "#6a1010", "strokeWidth": 1.2,
                  "fill": {"gradient": "radial", "x1": 0.45, "y1": 0.45, "r1": 0, "x2": 0.5, "y2": 0.5, "r2": 0.6,
                           "stops": [{"offset": 0, "color": "#f0a0a0"}, {"offset": 0.45, "color": "#c45252"}, {"offset": 1, "color": "#7e1414"}]}},
         "encoding": {"x": {"field": "cx", "type": "quantitative"}, "y": {"field": "cy", "type": "quantitative"}}},
        {"data": {"name": "nodes"},
         "mark": {"type": "text", "font": "Liberation Sans", "fontWeight": "bold", "fontSize": 21, "align": "center", "baseline": "middle", "color": "black"},
         "encoding": {"x": {"field": "cx", "type": "quantitative"}, "y": {"field": "cy", "type": "quantitative"}, "text": {"field": "name"}}},
        {"data": {"name": "dtext"}, "transform": [{"filter": "datum.role == 'letter'"}],
         "mark": {"type": "text", "font": "Liberation Sans", "fontWeight": "bold", "fontSize": 20, "align": "left", "baseline": "alphabetic", "color": "black"},
         "encoding": {"text": {"field": "label"}}},
        {"data": {"name": "dtext"}, "transform": [{"filter": "datum.role == 'title'"}],
         "mark": {"type": "text", "font": "Liberation Sans", "fontWeight": "bold", "fontSize": 24.2, "align": "center", "baseline": "alphabetic", "color": "black"},
         "encoding": {"text": {"field": "label"}}},
        {"data": {"name": "dtext"}, "transform": [{"filter": "datum.role == 'outcome'"}],
         "mark": {"type": "text", "font": "Liberation Sans", "fontWeight": "bold", "fontSize": 19.8, "align": "center", "baseline": "middle", "color": "black"},
         "encoding": {"text": {"field": "label"}}}
      ]
    }
  ]
}
